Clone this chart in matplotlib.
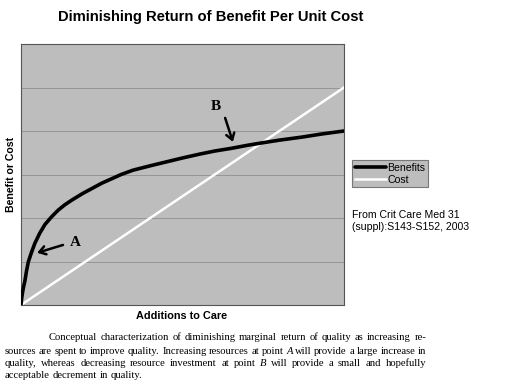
import matplotlib
matplotlib.use("Agg")
import matplotlib.pyplot as plt

# Data (x: additions to care, arbitrary units 0-10)
benefit_x = [0, 0.02, 0.05, 0.08, 0.12, 0.17, 0.23, 0.32, 0.43, 0.58, 0.74, 0.95, 1.15, 1.35,
             1.57, 1.9, 2.2, 2.5, 2.8, 3.1, 3.47, 4.0, 4.5, 5.0, 5.54, 6.0, 6.5, 7.0, 7.4,
             8.0, 8.7, 9.3, 10]
benefit_y = [0, 0.15, 0.30, 0.42, 0.55, 0.78, 1.00, 1.20, 1.42, 1.65, 1.85, 2.03, 2.18, 2.30,
             2.41, 2.56, 2.68, 2.80, 2.90, 3.00, 3.10, 3.20, 3.29, 3.38, 3.47, 3.54, 3.60, 3.67, 3.72,
             3.79, 3.86, 3.93, 4.00]
cost_x = [0, 10]
cost_y = [0, 5]
series_labels = ["Benefits", "Cost"]

title = "Diminishing Return of Benefit Per Unit Cost"
xlabel = "Additions to Care"
ylabel = "Benefit or Cost"
source = "From Crit Care Med 31\n(suppl):S143-S152, 2003"
caption_lines = [
    "Conceptual characterization of diminishing marginal return of quality as increasing re-",
    "sources are spent to improve quality. Increasing resources at point _A_ will provide a large increase in",
    "quality, whereas decreasing resource investment at point _B_ will provide a small and hopefully",
    "acceptable decrement in quality.",
]

W, H = 512, 388
fig = plt.figure(figsize=(W / 100, H / 100), dpi=100)
fig.patch.set_facecolor("white")

def fx(px):
    return px / W

def fy(py):
    return 1 - py / H

ax = fig.add_axes([fx(21), fy(305), (344 - 21) / W, (305 - 44) / H])
ax.set_facecolor("#bdbdbd")
ax.set_xlim(0, 10)
ax.set_ylim(0, 6)
ax.set_yticks([1, 2, 3, 4, 5])
ax.set_xticks([])
ax.tick_params(axis="y", length=0, labelleft=False)
ax.grid(axis="y", color="#8f8f8f", linewidth=0.6)
for s in ax.spines.values():
    s.set_color("#555555")
    s.set_linewidth(0.8)

lb, = ax.plot(benefit_x, benefit_y, color="black", linewidth=2.6,
              solid_capstyle="round", solid_joinstyle="round",
              label=series_labels[0], zorder=4)
lc, = ax.plot(cost_x, cost_y, color="white", linewidth=1.8,
              label=series_labels[1], zorder=3)

arrow_kw = dict(arrowstyle="->,head_length=0.45,head_width=0.3",
                color="black", lw=1.8, shrinkA=0, shrinkB=0)
ax.annotate("", xy=(0.50, 1.20), xytext=(1.30, 1.38), arrowprops=arrow_kw)
ax.text(1.50, 1.43, "A", fontsize=11, fontweight="bold", family="Liberation Serif",
        ha="left", va="center")
ax.annotate("", xy=(6.56, 3.75), xytext=(6.32, 4.30), arrowprops=arrow_kw)
ax.text(6.04, 4.57, "B", fontsize=11, fontweight="bold", family="Liberation Serif",
        ha="center", va="center")

fig.text(fx(211), fy(17), title, ha="center", va="center",
         fontsize=10.6, fontweight="bold", family="Liberation Sans")
fig.text(fx(182), fy(316), xlabel, ha="center", va="center",
         fontsize=7.8, fontweight="bold", family="Liberation Sans")
fig.text(fx(11), fy(174), ylabel, ha="center", va="center", rotation=90,
         fontsize=7.6, fontweight="bold", family="Liberation Sans")

leg = fig.legend(handles=[lb, lc], labels=series_labels,
                 loc="upper left", bbox_to_anchor=(fx(352), fy(160)),
                 frameon=True, fancybox=False,
                 prop={"family": "Liberation Sans", "size": 7.6},
                 handlelength=3, handletextpad=0.1, borderpad=0.25,
                 labelspacing=0.2, borderaxespad=0)
leg.get_frame().set_facecolor("#bdbdbd")
leg.get_frame().set_edgecolor("#777777")
leg.get_frame().set_linewidth(0.8)
leg.get_frame().set_alpha(1)

fig.text(fx(352), fy(221), source, ha="left", va="center",
         fontsize=7.6, family="Liberation Sans", linespacing=1.25)

# Justified caption: place word by word
ys = [338, 351, 363, 376]
xs = [49, 5, 5, 5]
right_edge = 426
justify = [True, True, True, False]
fs = 7.7
renderer = fig.canvas.get_renderer()
for line, x0, y, just in zip(caption_lines, xs, ys, justify):
    words = line.split(" ")
    objs = []
    widths = []
    for w in words:
        italic = w.startswith("_") and w.endswith("_")
        t = fig.text(0, fy(y), w.strip("_"), ha="left", va="center",
                     fontsize=fs, family="Liberation Serif",
                     style="italic" if italic else "normal")
        objs.append(t)
        widths.append(t.get_window_extent(renderer).width)
    if just and len(words) > 1:
        gap = (right_edge - x0 - sum(widths)) / (len(words) - 1)
    else:
        sp = fig.text(0, 0, "a a", fontsize=fs, family="Liberation Serif")
        sa = fig.text(0, 0, "aa", fontsize=fs, family="Liberation Serif")
        gap = sp.get_window_extent(renderer).width - sa.get_window_extent(renderer).width
        sp.remove()
        sa.remove()
    cx = x0
    for t, wd in zip(objs, widths):
        t.set_x(fx(cx))
        cx += wd + gap

fig.savefig("out.png", dpi=100)
